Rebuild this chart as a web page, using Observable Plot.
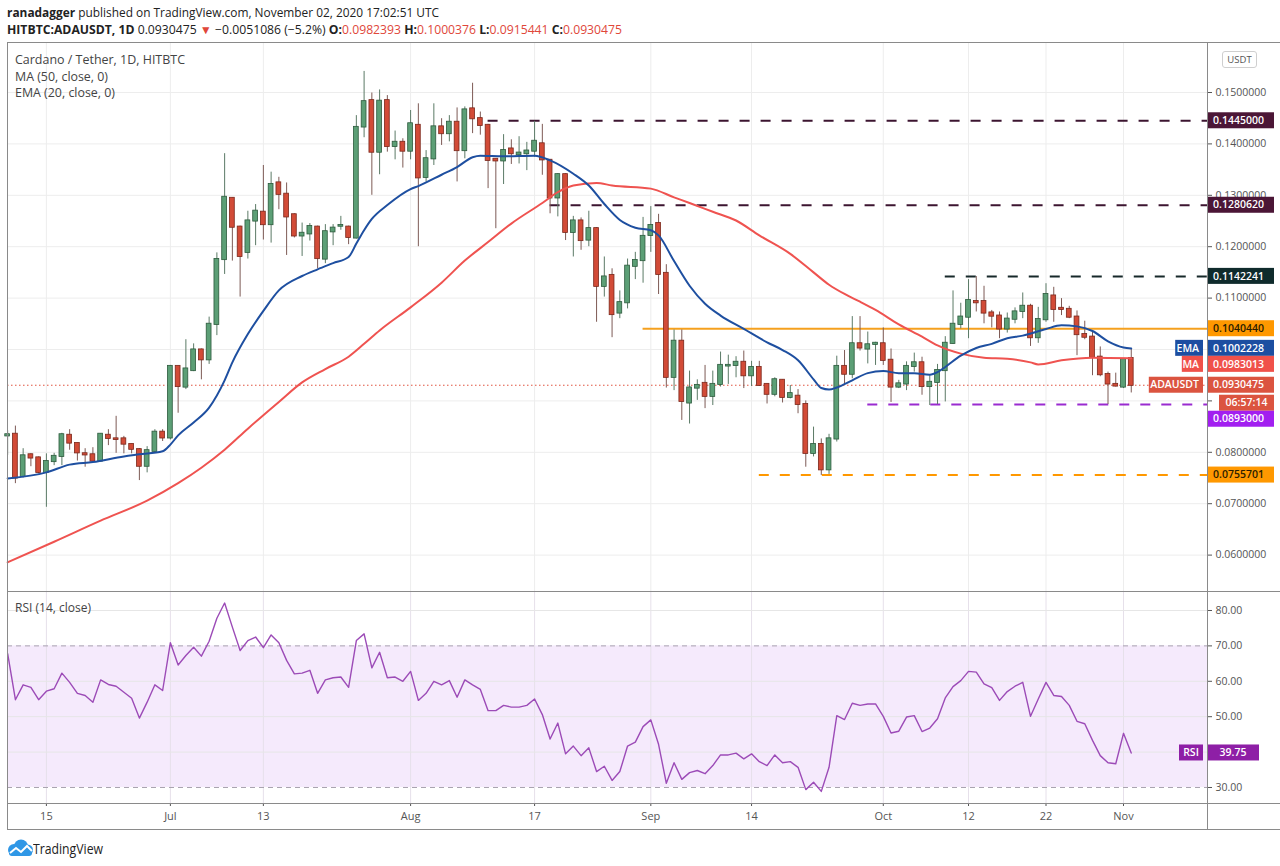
<!DOCTYPE html>
<html><head><meta charset="utf-8">
<script src="https://cdn.jsdelivr.net/npm/d3@7"></script>
<script src="https://cdn.jsdelivr.net/npm/@observablehq/plot@0.6"></script>
<style>
body{margin:0;background:#fff;width:1280px;height:866px;position:relative;overflow:hidden;font-family:"Open Sans",sans-serif;color:#333;}
.abs{position:absolute;white-space:nowrap;}
.hl{background:#8a8a8a;position:absolute;}
.fit{transform-origin:0 50%;}
.red{color:#e0473a;}
</style></head><body>
<div id="h1" class="abs fit" style="left:7px;top:4px;font-size:12px;color:#222;"><b>ranadagger</b> published on TradingView.com, November 02, 2020 17:02:51 UTC</div>
<div id="h2" class="abs fit" style="left:7px;top:21px;font-size:12px;color:#222;"><b>HITBTC:ADAUSDT, 1D</b> 0.0930475 <span class="red">▼</span> −0.0051086 (−5.2%) <b>O:</b><span class="red">0.0982393</span> <b>H:</b><span class="red">0.1000376</span> <b>L:</b><span class="red">0.0915441</span> <b>C:</b><span class="red">0.0930475</span></div>
<div id="price" class="abs" style="left:0;top:42px"></div>
<div id="rsi" class="abs" style="left:0;top:591px"></div>
<div class="hl" style="left:7px;top:42px;width:1273px;height:1px"></div>
<div class="hl" style="left:7px;top:42px;width:1px;height:788px"></div>
<div class="hl" style="left:1207px;top:42px;width:1px;height:788px"></div>
<div class="hl" style="left:7px;top:591px;width:1273px;height:1px"></div>
<div class="hl" style="left:7px;top:803px;width:1273px;height:1px"></div>
<div class="hl" style="left:7px;top:829px;width:1273px;height:1px"></div>
<div id="lg1" class="abs fit" style="left:15px;top:51px;font-size:12.5px;color:#444;">Cardano / Tether, 1D, HITBTC</div>
<div id="lg2" class="abs fit" style="left:15px;top:68px;font-size:12.5px;color:#444;">MA (50, close, 0)</div>
<div id="lg3" class="abs fit" style="left:15px;top:84px;font-size:12.5px;color:#444;">EMA (20, close, 0)</div>
<div id="lg4" class="abs fit" style="left:15px;top:599px;font-size:12.5px;color:#444;">RSI (14, close)</div>
<div class="abs" style="left:1222px;top:51px;width:33px;height:15px;border:1px solid #cfcfcf;border-radius:3px;font-size:9.5px;color:#555;text-align:center;line-height:15px;">USDT</div>
<svg class="abs" style="left:6px;top:839px" width="28" height="19" viewBox="0 0 28 19">
<circle cx="8" cy="11" r="6" fill="#2f97e6"/><circle cx="15" cy="7.5" r="7" fill="#2f97e6"/><circle cx="21.5" cy="11" r="5.5" fill="#2f97e6"/><rect x="3" y="10" width="23" height="7" rx="3" fill="#2f97e6"/>
<polyline points="4,14 10,9 15,13 21,7 26,12" fill="none" stroke="#fff" stroke-width="2"/></svg>
<div id="tvtxt" class="abs fit" style="left:33px;top:839px;font-size:14.5px;color:#222;">TradingView</div>
<script>
// ---------- data ----------
const candleStart = "2020-06-10";
const open = [
.0832,.0835,.0753,.0795,.0789,.0761,.0782,.0792,.0833,.0817,
.0797,.0795,.0783,.0833,.0826,.0826,.0815,.0805,.0773,.0802,
.0839,.0828,.0967,.0927,.0959,.0999,.0980,.1049,.1175,.1294,
.1238,.1189,.1250,.1267,.1243,.1324,.1302,.1262,.1221,.1225,
.1238,.1176,.1229,.1240,.1238,.1217,.1433,.1484,.1384,.1484,
.1395,.1403,.1386,.1436,.1335,.1371,.1433,.1420,.1442,.1387,
.1468,.1449,.1436,.1370,.1367,.1390,.1379,.1381,.1386,.1400,
.1368,.1295,.1340,.1228,.1250,.1213,.1235,.1123,.1144,.1071,
.1091,.1162,.1173,.1222,.1245,.1148,.0946,.1016,.0896,.0925,
.0934,.0909,.0932,.0968,.0969,.0975,.0949,.0965,.0932,.0913,
.0940,.0907,.0909,.0893,.0798,.0815,.0766,.0826,.0967,.0952,
.1011,.1001,.1010,.1011,.0979,.0927,.0933,.0967,.0974,.0928,
.0936,.0959,.1012,.1049,.1063,.1093,.1093,.1071,.1065,.1040,
.1059,.1074,.1084,.1023,.1058,.1104,.1080,.1078,.1063,.1029,
.1024,.0985,.0951,.0932,.0927,.0982393];
const high = [
.0842,.0851,.0807,.0797,.0791,.0797,.0798,.0837,.0844,.0818,
.0807,.0809,.0836,.0844,.0870,.0831,.0816,.0807,.0811,.0844,
.0844,.0969,.0968,.1019,.1011,.1001,.1063,.1188,.1381,.1295,
.1240,.1269,.1282,.1358,.1345,.1335,.1324,.1264,.1246,.1245,
.1240,.1243,.1243,.1259,.1240,.1455,.1541,.1499,.1505,.1494,
.1425,.1410,.1465,.1478,.1387,.1478,.1449,.1455,.1470,.1472,
.1518,.1462,.1438,.1371,.1418,.1408,.1414,.1403,.1444,.1438,
.1369,.1342,.1342,.1259,.1256,.1269,.1237,.1180,.1157,.1114,
.1176,.1189,.1257,.1278,.1263,.1165,.1038,.1038,.0958,.0941,
.0969,.0958,.0995,.0989,.0986,.0997,.0977,.0977,.0933,.0945,
.0941,.0930,.0922,.0900,.0849,.0826,.0835,.0987,.0998,.1064,
.1064,.1034,.1014,.1042,.1001,.0940,.0976,.0993,.0985,.0949,
.0971,.1025,.1114,.1090,.1136,.1142,.1123,.1076,.1073,.1071,
.1081,.1110,.1088,.1082,.1128,.1121,.1099,.1084,.1075,.1055,
.1037,.1005,.0956,.0954,.0982,.1000376];
const low = [
.0794,.0739,.0750,.0772,.0758,.0693,.0774,.0774,.0804,.0783,
.0771,.0780,.0781,.0813,.0798,.0797,.0797,.0745,.0760,.0800,
.0821,.0824,.0876,.0922,.0957,.0941,.0971,.1027,.1146,.1172,
.1102,.1176,.1202,.1213,.1207,.1272,.1183,.1217,.1181,.1211,
.1157,.1167,.1202,.1232,.1204,.1215,.1412,.1300,.1340,.1384,
.1369,.1353,.1369,.1200,.1326,.1358,.1397,.1404,.1326,.1371,
.1420,.1417,.1313,.1235,.1321,.1360,.1361,.1348,.1374,.1339,
.1264,.1258,.1212,.1180,.1193,.1200,.1053,.1102,.1023,.1060,
.1079,.1136,.1129,.1189,.1107,.0925,.0920,.0862,.0855,.0901,
.0885,.0891,.0927,.0932,.0945,.0924,.0928,.0928,.0894,.0908,
.0896,.0904,.0875,.0771,.0791,.0755,.0757,.0820,.0932,.0943,
.0997,.0972,.0969,.0969,.0897,.0924,.0920,.0956,.0911,.0891,
.0893,.0898,.1010,.1040,.1021,.1073,.1050,.1042,.1021,.1032,
.1050,.1060,.1006,.1012,.1053,.1053,.1066,.1060,.0988,.1019,
.0949,.0947,.0893,.0927,.0924,.0915441];
const close = [
.0834,.0750,.0793,.0789,.0761,.0782,.0792,.0834,.0818,.0799,
.0795,.0783,.0835,.0827,.0825,.0816,.0806,.0773,.0803,.0839,
.0828,.0967,.0928,.0962,.0999,.0980,.1049,.1175,.1296,.1238,
.1181,.1250,.1269,.1243,.1321,.1302,.1258,.1221,.1226,.1239,
.1177,.1229,.1236,.1241,.1218,.1432,.1482,.1384,.1483,.1395,
.1403,.1386,.1439,.1334,.1371,.1433,.1420,.1442,.1387,.1466,
.1449,.1436,.1368,.1367,.1387,.1381,.1382,.1386,.1405,.1369,
.1295,.1340,.1228,.1250,.1212,.1235,.1123,.1141,.1068,.1091,
.1162,.1173,.1220,.1241,.1146,.0946,.1016,.0899,.0925,.0930,
.0909,.0932,.0969,.0969,.0975,.0949,.0965,.0930,.0913,.0941,
.0907,.0914,.0893,.0798,.0815,.0766,.0826,.0967,.0952,.1011,
.1003,.1009,.1012,.0979,.0927,.0933,.0967,.0974,.0928,.0936,
.0959,.1012,.1049,.1063,.1095,.1091,.1071,.1065,.1040,.1059,
.1073,.1084,.1023,.1058,.1107,.1078,.1078,.1063,.1029,.1024,
.0985,.0951,.0933,.0929,.0980,.0930475];
const rsiValues = [
67.8,54.8,59.0,58.3,54.8,57.2,57.9,62.3,59.7,56.6,
56.0,54.1,60.4,59.1,58.6,56.9,55.2,49.6,54.1,59.0,
57.4,70.9,64.6,67.3,69.6,67.1,71.3,77.8,82.1,75.3,
68.7,71.5,72.5,69.5,73.1,70.9,65.9,62.1,62.3,63.1,
56.6,60.4,61.0,61.2,58.3,71.5,73.4,63.8,68.2,61.0,
61.2,60.0,62.8,54.6,56.6,60.0,59.0,60.2,55.5,60.4,
59.0,57.7,51.7,51.7,53.2,52.7,52.7,53.2,55.0,50.6,
43.7,48.2,39.5,41.7,39.0,41.2,34.5,36.0,32.0,34.5,
41.7,42.8,47.2,49.1,42.2,31.2,37.0,32.3,34.2,34.8,
33.9,36.2,39.2,39.2,39.7,38.1,39.5,37.3,36.2,39.2,
37.0,37.3,35.7,29.4,31.5,28.9,35.7,50.3,49.2,53.8,
53.2,53.6,53.6,50.1,45.4,45.9,49.9,50.3,45.8,46.8,
49.4,55.3,58.5,60.2,62.8,62.6,59.3,58.2,54.6,57.1,
58.6,59.7,50.1,55.0,59.7,56.0,55.7,53.2,48.7,48.0,
43.3,39.0,37.0,36.7,45.3,39.75];
const emaDates = ["2020-06-10","2020-06-15","2020-06-18","2020-06-21","2020-06-25","2020-06-27","2020-06-30","2020-07-01","2020-07-02","2020-07-04","2020-07-06","2020-07-08","2020-07-09","2020-07-11","2020-07-13","2020-07-15","2020-07-18","2020-07-20","2020-07-22","2020-07-24","2020-07-25","2020-07-26","2020-07-27","2020-07-29","2020-08-01","2020-08-02","2020-08-05","2020-08-07","2020-08-09","2020-08-10","2020-08-13","2020-08-17","2020-08-19","2020-08-22","2020-08-24","2020-08-26","2020-08-28","2020-08-30","2020-09-01","2020-09-02","2020-09-04","2020-09-06","2020-09-08","2020-09-10","2020-09-13","2020-09-16","2020-09-18","2020-09-20","2020-09-22","2020-09-23","2020-09-24","2020-09-25","2020-09-27","2020-09-29","2020-10-01","2020-10-03","2020-10-05","2020-10-07","2020-10-08","2020-10-09","2020-10-11","2020-10-13","2020-10-15","2020-10-17","2020-10-19","2020-10-22","2020-10-24","2020-10-26","2020-10-28","2020-10-30","2020-11-01","2020-11-02"];
const emaValues = [.0749,.0761,.0776,.0781,.0792,.0796,.0802,.0815,.0833,.0858,.0887,.0940,.0975,.1030,.1075,.1115,.1143,.1156,.1168,.1180,.1206,.1232,.1254,.1281,.1312,.1318,.1340,.1355,.1374,.1377,.1376,.1377,.1368,.1342,.1319,.1283,.1252,.1237,.1232,.1222,.1172,.1124,.1089,.1066,.1040,.1014,.0999,.0979,.0942,.0925,.0922,.0926,.0940,.0954,.0958,.0954,.0954,.0951,.0956,.0966,.0988,.1003,.1011,.1022,.1027,.1040,.1047,.1045,.1036,.1016,.1004,.1002];
const maDates = ["2020-06-10","2020-06-16","2020-06-22","2020-06-28","2020-07-02","2020-07-05","2020-07-08","2020-07-11","2020-07-15","2020-07-18","2020-07-21","2020-07-24","2020-07-26","2020-07-28","2020-08-01","2020-08-05","2020-08-08","2020-08-11","2020-08-14","2020-08-18","2020-08-20","2020-08-22","2020-08-25","2020-08-27","2020-09-01","2020-09-04","2020-09-06","2020-09-09","2020-09-12","2020-09-15","2020-09-19","2020-09-22","2020-09-24","2020-09-26","2020-09-28","2020-09-30","2020-10-03","2020-10-06","2020-10-08","2020-10-11","2020-10-14","2020-10-17","2020-10-20","2020-10-21","2020-10-24","2020-10-28","2020-11-02"];
const maValues = [.0586,.0626,.0667,.0706,.0740,.0770,.0805,.0846,.0898,.0936,.0962,.0986,.1011,.1037,.1082,.1130,.1173,.1209,.1245,.1285,.1306,.1319,.1324,.1319,.1313,.1296,.1285,.1268,.1251,.1222,.1186,.1150,.1126,.1108,.1093,.1077,.1049,.1025,.1008,.0992,.0984,.0982,.0975,.0971,.0979,.0984,.0983];
const emaLast = 0.1002228, maLast = 0.0983013, lastClose = 0.0930475;
const levelValues = [0.1445, 0.128062, 0.1142241, 0.104044, 0.0893, 0.0755701];
const levelFrom = ["2020-08-11","2020-08-19","2020-10-09","2020-08-31","2020-09-29","2020-09-15"];
const levelColors = ["#3c1530","#3c1530","#17292a","#f5a01e","#9a2bd0","#ff9800"];
const levelDashed = [true, true, true, false, true, true];
const levelBoxColors = ["#4b1636","#4b1636","#0f2b2c","#ff9800","#a21ff0","#ff9800"];
const levelTextColors = ["#fff","#fff","#fff","#2b1d00","#fff","#2b1d00"];
const priceTicks = [0.06,0.07,0.08,0.09,0.10,0.11,0.12,0.13,0.14,0.15];
const rsiTicks = [30,40,50,60,70,80];
const rsiGrid = [40,50,60,80];
const xTickDates = ["2020-06-15","2020-07-01","2020-07-13","2020-08-01","2020-08-17","2020-09-01","2020-09-14","2020-10-01","2020-10-12","2020-10-22","2020-11-01"];
const xTickLabels = ["15","Jul","13","Aug","17","Sep","14","Oct","12","22","Nov"];

// ---------- build ----------
const DAY = 864e5;
const pd = s => new Date(s + "T00:00:00Z");
const t0 = +pd(candleStart);
const candles = open.map((o, i) => ({date: new Date(t0 + i * DAY), o, h: high[i], l: low[i], c: close[i]}));
const xStart = new Date(t0 - 0.02 * DAY), xEnd = new Date(t0 + 154.84 * DAY);
const xTicks = xTickDates.map(pd);
const xLabel = new Map(xTicks.map((d, i) => [+d, xTickLabels[i]]));
const ema = emaDates.map((d, i) => ({date: pd(d), v: emaValues[i]}));
const ma = maDates.map((d, i) => ({date: pd(d), v: maValues[i]}));
const levels = levelValues.map((v, i) => ({v, from: pd(levelFrom[i]), color: levelColors[i], dashed: levelDashed[i]}));
const rsi = rsiValues.map((v, i) => ({date: candles[i].date, v}));
const FONT = "'Open Sans', sans-serif";
const up = d => d.c >= d.o;
const priceDomain = [0.052918, 0.159728], priceH = 549;
const rsiDomain = [25.48, 85.08];

// right-axis value tags (placed with the same linear y mapping Plot uses)
const yLin = d3.scaleLinear(priceDomain, [priceH, 0]);
const tags = [];
levelValues.forEach((v, i) => tags.push({v, txt: v.toFixed(7), bg: levelBoxColors[i], fg: levelTextColors[i]}));
tags.push({v: emaLast, txt: emaLast.toFixed(7), bg: "#1c4ea1", fg: "#fff", tag: "EMA"});
tags.push({v: maLast, txt: maLast.toFixed(7), bg: "#f0514a", fg: "#fff", tag: "MA"});
tags.push({v: lastClose, txt: lastClose.toFixed(7), bg: "#db5440", fg: "#fff", tag: "ADAUSDT", extra: "06:57:14"});
tags.sort((a, b) => yLin(a.v) - yLin(b.v));
let last = -1e9;
tags.forEach(t => { let y = yLin(t.v); if (y < last + 16) y = last + 16; t.y = y; last = t.extra ? y + 18 : y; });
const covered = v => tags.some(t => Math.abs(yLin(v) - t.y) < 9 || (t.extra && Math.abs(yLin(v) - (t.y + 18)) < 9));

const price = Plot.plot({
  width: 1280, height: priceH, marginLeft: 7, marginRight: 73, marginTop: 0, marginBottom: 0,
  style: {background: "transparent", fontFamily: FONT, overflow: "visible"},
  color: {type: "identity"},
  x: {type: "utc", domain: [xStart, xEnd], axis: null},
  y: {domain: priceDomain},
  marks: [
    Plot.gridX(xTicks, {stroke: "#ededed", strokeOpacity: 1}),
    Plot.gridY(priceTicks, {stroke: "#ededed", strokeOpacity: 1}),
    Plot.axisY(priceTicks, {anchor: "right", label: null, tickFormat: d => covered(d) ? "" : d.toFixed(7), tickSize: 4, tickPadding: 4, fontSize: 10.5, color: "#555"}),
    Plot.ruleY([lastClose], {stroke: "#e0533f", strokeDasharray: "1.5,2.5", strokeWidth: 1}),
    Plot.ruleY(levels.filter(d => d.dashed), {y: "v", x1: "from", x2: () => xEnd, stroke: "color", strokeWidth: 2, strokeDasharray: "10,11"}),
    Plot.ruleY(levels.filter(d => !d.dashed), {y: "v", x1: "from", x2: () => xEnd, stroke: "color", strokeWidth: 2}),
    Plot.ruleX(candles, {x: "date", y1: "l", y2: "h", stroke: d => up(d) ? "#5b7a66" : "#7d5a55", strokeWidth: 1}),
    Plot.rect(candles, {x1: d => new Date(+d.date - 0.31 * DAY), x2: d => new Date(+d.date + 0.31 * DAY), y1: "o", y2: "c",
      fill: d => up(d) ? "#5c9f76" : "#d24b37", stroke: d => up(d) ? "#2c5a3c" : "#7a271b", strokeWidth: 0.8, insetTop: -0.6, insetBottom: -0.6}),
    Plot.line(ma, {x: "date", y: "v", stroke: "#ef5350", strokeWidth: 2, curve: "monotone-x"}),
    Plot.line(ema, {x: "date", y: "v", stroke: "#1e4fa0", strokeWidth: 2, curve: "monotone-x"})
  ]
});
document.getElementById("price").appendChild(price);

const g = d3.select(price).append("g").attr("font-family", FONT).attr("font-size", 10.5).attr("font-weight", 600).attr("text-anchor", "start");
tags.forEach(t => {
  g.append("rect").attr("x", 1207).attr("y", t.y - 8).attr("width", 67).attr("height", 16).attr("fill", t.bg);
  g.append("text").attr("x", 1213).attr("y", t.y).attr("dy", "0.35em").attr("text-anchor", "start").attr("fill", t.fg).text(t.txt);
  if (t.tag) {
    const w = t.tag.length * 6.6 + 8;
    g.append("rect").attr("x", 1203 - w).attr("y", t.y - 8).attr("width", w).attr("height", 16).attr("fill", t.bg);
    g.append("text").attr("x", 1199).attr("y", t.y).attr("dy", "0.35em").attr("text-anchor", "end").attr("fill", "#fff").text(t.tag);
  }
  if (t.extra) {
    g.append("rect").attr("x", 1219).attr("y", t.y + 10).attr("width", 55).attr("height", 16).attr("fill", t.bg);
    g.append("text").attr("x", 1246.5).attr("y", t.y + 18).attr("dy", "0.35em").attr("text-anchor", "middle").attr("fill", "#fff").text(t.extra);
  }
});

const rsiLast = rsiValues[rsiValues.length - 1];
const rLin = d3.scaleLinear(rsiDomain, [803 - 591, 1]);
const rsiPlot = Plot.plot({
  width: 1280, height: 239, marginLeft: 7, marginRight: 73, marginTop: 1, marginBottom: 27,
  style: {background: "transparent", fontFamily: FONT, overflow: "visible"},
  x: {type: "utc", domain: [xStart, xEnd]},
  y: {domain: rsiDomain},
  marks: [
    Plot.rect([0], {x1: () => xStart, x2: () => xEnd, y1: () => 30, y2: () => 70, fill: "#a030e0", fillOpacity: 0.1}),
    Plot.gridX(xTicks, {stroke: "#e6e0ea", strokeOpacity: 1}),
    Plot.gridY(rsiGrid, {stroke: "#e6e6e6", strokeOpacity: 1}),
    Plot.ruleY([30, 70], {stroke: "#a9a3b0", strokeDasharray: "5,4", strokeWidth: 1}),
    Plot.line(rsi, {x: "date", y: "v", stroke: "#9c4bb7", strokeWidth: 1.4}),
    Plot.axisY(rsiTicks, {anchor: "right", label: null, tickFormat: d => Math.abs(rLin(d) - rLin(rsiLast)) < 10 ? "" : d.toFixed(2), tickSize: 4, tickPadding: 4, fontSize: 10.5, color: "#555"}),
    Plot.axisX(xTicks, {anchor: "bottom", label: null, tickFormat: d => xLabel.get(+d), tickSize: 3, tickPadding: 6, fontSize: 11, color: "#555"})
  ]
});
document.getElementById("rsi").appendChild(rsiPlot);
const ry = rsiPlot.scale("y").apply(rsiLast);
const g2 = d3.select(rsiPlot).append("g").attr("font-family", FONT).attr("font-size", 10.5).attr("font-weight", 600);
g2.append("rect").attr("x", 1179).attr("y", ry - 8).attr("width", 24).attr("height", 16).attr("fill", "#8e1fa6");
g2.append("text").attr("x", 1191).attr("y", ry).attr("dy", "0.35em").attr("text-anchor", "middle").attr("fill", "#fff").text("RSI");
g2.append("rect").attr("x", 1207).attr("y", ry - 8).attr("width", 52).attr("height", 16).attr("fill", "#8e1fa6");
g2.append("text").attr("x", 1233).attr("y", ry).attr("dy", "0.35em").attr("text-anchor", "middle").attr("fill", "#fff").text(rsiLast.toFixed(2));

// fit header / legend text widths to the reference
const fits = {h1: 432, h2: 615, lg1: 170, lg2: 93, lg3: 100, lg4: 76, tvtxt: 70};
Object.entries(fits).forEach(([id, w]) => {
  const el = document.getElementById(id);
  const cw = el.getBoundingClientRect().width;
  if (cw > 0) el.style.transform = `scaleX(${w / cw})`;
});
</script>
</body></html>
